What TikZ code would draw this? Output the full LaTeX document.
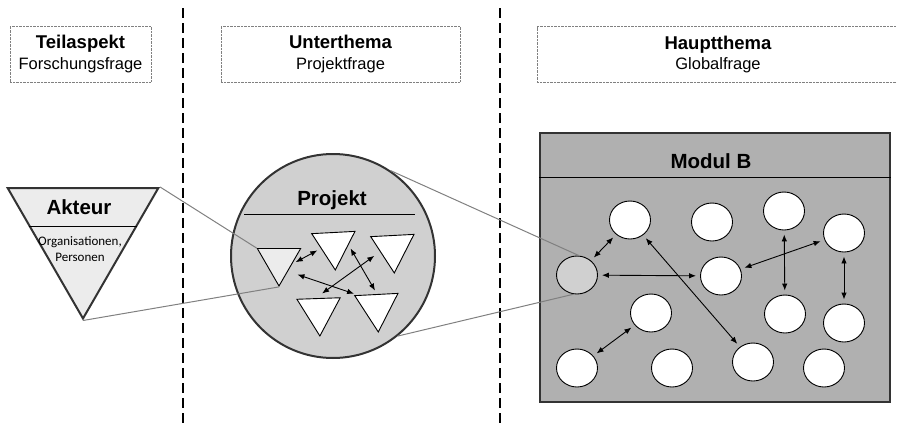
\documentclass[tikz,border=0pt]{standalone}
\usepackage{fontspec}
\setmainfont{Liberation Sans}
\newfontfamily\calibri{Carlito}
\usetikzlibrary{shapes.geometric,calc,arrows.meta}

\definecolor{hellgrau}{HTML}{ECECEC}
\definecolor{mittelgrau}{HTML}{D0D0D0}
\definecolor{dunkelgrau}{HTML}{B0B0B0}

\tikzset{
  kopf/.style={draw=gray, densely dotted, align=center, minimum height=56pt, inner sep=0pt,
               font=\fontsize{16.5}{20.5}\selectfont},
  rahmen/.style={draw=black!80, line width=2pt},
  kreis/.style={ellipse, draw, line width=0.9pt, fill=white, minimum width=41pt, minimum height=38pt, inner sep=0pt},
  dreieck/.style={regular polygon, regular polygon sides=3, shape border rotate=183, draw, line width=0.9pt, fill=white, minimum size=50pt, inner sep=0pt},
  pfeil/.style={{Latex[length=7pt,width=5.5pt]}-{Latex[length=7pt,width=5.5pt]}, line width=0.9pt, shorten >=4pt, shorten <=4pt},
  lupe/.style={draw=gray, line width=1pt},
  titel/.style={font=\fontsize{20.5}{23}\selectfont\bfseries}
}

\newcommand{\kopftext}[2]{{\fontsize{18.5}{20.5}\selectfont\bfseries #1}\\#2}

\begin{document}
\begin{tikzpicture}[x=1pt, y=-1pt]
  \useasboundingbox (0,0) rectangle (897,423);

  % Trennlinien
  \draw [line width=1.1pt, dash pattern=on 10pt off 5pt] (183,8) -- (183,423);
  \draw [line width=1.1pt, dash pattern=on 10pt off 5pt] (500,8) -- (500,423);

  % Kopfzeilen
  \node [kopf, minimum width=141pt] (teil) at (80.5,54) {\kopftext{Teilaspekt}{Forschungsfrage}};
  \node [kopf, minimum width=239pt] (unter) at (340.5,54) {\kopftext{Unterthema}{Projektfrage}};
  \node [kopf, minimum width=362pt] (haupt) at (718,54.5) {\kopftext{Hauptthema}{Globalfrage}};

  % Akteur
  \node [regular polygon, regular polygon sides=3, shape border rotate=180, rahmen, fill=hellgrau, minimum size=174pt, inner sep=0pt] (akteur) at (83,231.5) {};
  \draw [line width=0.9pt] ($(akteur.corner 3)!0.295!(akteur.corner 1)$) -- ($(akteur.corner 2)!0.295!(akteur.corner 1)$);
  \node [titel] (akteurtitel) at (79,207) {Akteur};
  \node [font=\calibri\fontsize{13}{16}\selectfont, align=center] (akteurtext) at (80,249) {Organisationen,\\Personen};

  % Projekt
  \node [circle, rahmen, fill=mittelgrau, minimum size=204pt, inner sep=0pt] (projekt) at (333,256) {};
  \draw [line width=0.9pt] ([shift={(-89,-42)}]projekt.center) -- ([shift={(82,-42)}]projekt.center);
  \node [titel] (projekttitel) at (332,200.5) {Projekt};
  \node [dreieck, shape border rotate=180, fill=hellgrau] (T0) at (279,261) {};
  \node [dreieck] (T1) at (334,245) {};
  \node [dreieck] (T2) at (393,248) {};
  \node [dreieck, shape border rotate=182] (T3) at (319,311) {};
  \node [dreieck] (T4) at (377,307) {};
  \draw [pfeil] (T0.-13) -- (T1.195);
  \draw [pfeil, shorten <=10pt] (T0.-49) -- (T4.148);
  \draw [pfeil] (T1.0) -- (T4.90);
  \draw [pfeil, shorten <=7pt, shorten >=8pt] (T2.196) -- (T3.105);

  % Modul B
  \node [rectangle, rahmen, fill=dunkelgrau, minimum width=350pt, minimum height=269pt, inner sep=0pt] (modul) at (715,267.5) {};
  \draw [line width=0.9pt] ($(modul.north west)+(0,45)$) -- ($(modul.north east)+(0,45)$);
  \node [titel] (modultitel) at (711,161) {Modul B};
  \node [kreis, fill=mittelgrau] (g) at (577,275) {};
  \foreach \name/\x/\y in {c1/630/220, c2/712/222, c3/784/211, c4/844/233, c5/721/276, c6/651/313,
                           c7/785/314, c8/844/323, c9/577/368, c10/672/368, c11/753/362, c12/824/368}
    \node [kreis] (\name) at (\x,\y) {};
  \foreach \a/\b in {g/c1, g/c5, c1/c11, c5/c4, c3/c7, c4/c8, c9/c6}
    \draw [pfeil] (\a) -- (\b);

  % Lupenlinien
  \draw [lupe] (akteur.corner 2) -- (T0.corner 3);
  \draw [lupe] (akteur.corner 1) -- (T0.corner 1);
  \draw [lupe] (projekt.56) -- (g.84);
  \draw [lupe] (projekt.-51) -- (g.-100);
\end{tikzpicture}
\end{document}
